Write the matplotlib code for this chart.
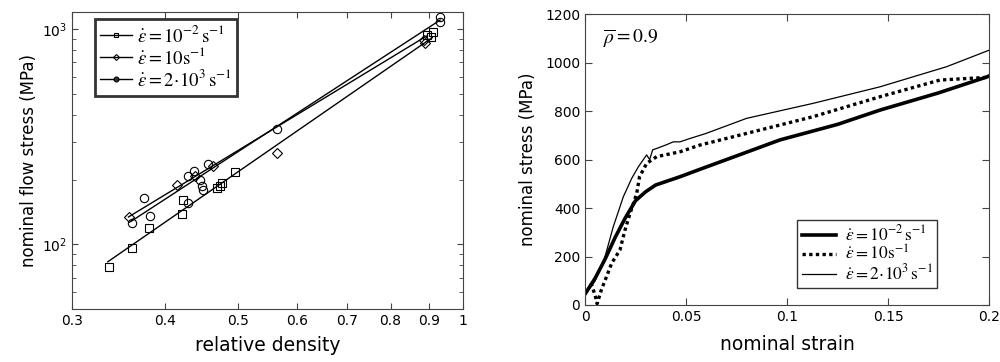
import matplotlib
matplotlib.use("Agg")
import matplotlib.pyplot as plt
from matplotlib.ticker import FixedLocator, NullLocator, LogLocator, NullFormatter

plt.rcParams['font.family'] = ['DejaVu Sans']
plt.rcParams['mathtext.fontset'] = 'stix'

# ---------------- Left panel data (log-log) ----------------
sq_x = [0.3365, 0.3604, 0.3806, 0.4205, 0.4226, 0.4683, 0.4732, 0.4756, 0.4955, 0.894, 0.905, 0.9125]
sq_y = [78.5, 96.1, 118.6, 137.7, 159.8, 183, 186.2, 193, 217.1, 938, 921, 971]
di_x = [0.3578, 0.4148, 0.438, 0.4634, 0.5633, 0.887, 0.889]
di_y = [133.8, 188.2, 207, 230.4, 265.8, 889, 859]
ci_x = [0.3604, 0.3745, 0.3820, 0.4292, 0.4292, 0.4367, 0.4449, 0.4472, 0.4494, 0.4564, 0.5645, 0.9313, 0.933]
ci_y = [126, 164.5, 135.2, 156, 207.2, 218.5, 200, 186.2, 179.7, 236.4, 343, 1081, 1133]

line_sq_x = [0.335, 0.91]
line_sq_y = [83, 913]
line_di_x = [0.357, 0.895]
line_di_y = [134, 930]
line_ci_x = [0.36, 0.932]
line_ci_y = [128, 1100]

left_xticks = [0.3, 0.4, 0.5, 0.6, 0.7, 0.8, 0.9, 1.0]
left_xticklabels = ['0.3', '0.4', '0.5', '0.6', '0.7', '0.8', '0.9', '1']

# ---------------- Right panel data ----------------
s1_x = [0.0, 0.005, 0.01, 0.015, 0.02, 0.025, 0.03, 0.035, 0.047, 0.057, 0.075, 0.0965, 0.125, 0.146, 0.175, 0.199, 0.2]
s1_y = [45, 110, 190, 280, 360, 430, 467, 495, 529, 560, 615, 681, 745, 804, 875, 941, 945]

s2_x = [0.003, 0.005, 0.006, 0.008, 0.0132, 0.0173, 0.0198, 0.0223, 0.0256, 0.027, 0.0305, 0.0355, 0.047, 0.057, 0.0767, 0.113, 0.146, 0.1757, 0.199, 0.2]
s2_y = [90, 40, 5, 60, 172, 227, 309, 378, 460, 529, 584, 612, 632, 660, 701, 777, 859, 928, 939, 940]

s3_x = [0.0, 0.005, 0.0099, 0.014, 0.019, 0.0231, 0.0264, 0.0305, 0.032, 0.0335, 0.0355, 0.040, 0.0437, 0.047, 0.052, 0.06, 0.08, 0.113, 0.146, 0.179, 0.2]
s3_y = [40, 100, 199, 323, 447, 522, 570, 619, 600, 640, 646, 660, 673, 673, 687, 708, 770, 832, 900, 983, 1051]

right_xticks = [0, 0.05, 0.1, 0.15, 0.2]
right_xticklabels = ['0', '0.05', '0.1', '0.15', '0.2']
right_yticks = [0, 200, 400, 600, 800, 1000, 1200]

labels = [r'$\dot{\varepsilon}=10^{-2}\,\mathrm{s}^{-1}$',
          r'$\dot{\varepsilon}=10\mathrm{s}^{-1}$',
          r'$\dot{\varepsilon}=2\!\cdot\!10^{3}\,\mathrm{s}^{-1}$']

fig = plt.figure(figsize=(10, 3.62), dpi=100)

spine_col = '#444444'
# ---------------- Left ----------------
ax1 = fig.add_axes([0.072, 0.146, 0.391, 0.821])
ax1.set_xscale('log')
ax1.set_yscale('log')
mk = dict(ls='none', mfc='none', mec='black', mew=0.8, ms=6)
ax1.plot(sq_x, sq_y, marker='s', **mk)
ax1.plot(di_x, di_y, marker='D', **dict(mk, ms=5))
ax1.plot(ci_x, ci_y, marker='o', **mk)
ax1.plot(line_sq_x, line_sq_y, color='black', lw=1.0)
ax1.plot(line_di_x, line_di_y, color='black', lw=1.0)
ax1.plot(line_ci_x, line_ci_y, color='black', lw=1.0)
h1 = ax1.plot([], [], color='black', lw=1.0, marker='s', ms=3.5, mfc='none', mec='black', mew=0.8)[0]
h2 = ax1.plot([], [], color='black', lw=1.0, marker='D', ms=3.0, mfc='none', mec='black', mew=0.8)[0]
h3 = ax1.plot([], [], color='black', lw=1.0, marker='o', ms=3.5, mfc='#333333', mec='black', mew=0.8)[0]
leg1 = ax1.legend([h1, h2, h3], labels, loc='upper left', bbox_to_anchor=(0.058, 0.975),
                  borderaxespad=0, fancybox=False, edgecolor='black', fontsize=13.5,
                  handlelength=1.7, handletextpad=0.25, labelspacing=0.05, borderpad=0.3)
leg1.get_frame().set_linewidth(2.0)
ax1.set_xlim(0.3, 1.0)
ax1.set_ylim(50, 1200)
ax1.xaxis.set_major_locator(FixedLocator(left_xticks))
ax1.set_xticklabels(left_xticklabels)
ax1.xaxis.set_minor_locator(NullLocator())
ax1.yaxis.set_major_locator(LogLocator(base=10))
ax1.yaxis.set_minor_locator(LogLocator(base=10, subs=range(2, 10)))
ax1.yaxis.set_minor_formatter(NullFormatter())
ax1.tick_params(which='both', direction='in', top=True, right=True, labelsize=10, color=spine_col)
ax1.tick_params(which='major', length=4)
ax1.tick_params(which='minor', length=3)
for s in ax1.spines.values():
    s.set_color(spine_col)
ax1.set_xlabel('relative density', fontsize=13.5, labelpad=6)
ax1.set_ylabel('nominal flow stress (MPa)', fontsize=12, labelpad=3)

# ---------------- Right ----------------
ax2 = fig.add_axes([0.585, 0.1575, 0.404, 0.8035])
ax2.plot(s1_x, s1_y, color='black', lw=2.6, label=labels[0])
ax2.plot(s2_x, s2_y, color='black', lw=2.4, ls=(0, (1.0, 1.0)), label=labels[1])
ax2.plot(s3_x, s3_y, color='black', lw=0.9, label=labels[2])
ax2.set_xlim(0, 0.2)
ax2.set_ylim(0, 1200)
ax2.set_xticks(right_xticks)
ax2.set_xticklabels(right_xticklabels)
ax2.set_yticks(right_yticks)
ax2.tick_params(which='both', direction='in', top=True, right=True, labelsize=10, length=5, color=spine_col)
for s in ax2.spines.values():
    s.set_color(spine_col)
ax2.set_xlabel('nominal strain', fontsize=13.5, labelpad=8)
ax2.set_ylabel('nominal stress (MPa)', fontsize=12, labelpad=6)
leg2 = ax2.legend(loc='lower right', bbox_to_anchor=(0.872, 0.058), borderaxespad=0,
                  fancybox=False, edgecolor='black', fontsize=12.5, handlelength=2.0,
                  handletextpad=0.5, labelspacing=0.0, borderpad=0.25)
leg2.get_frame().set_linewidth(1.0)
ax2.text(0.045, 0.955, r'$\overline{\rho}=0.9$', transform=ax2.transAxes, fontsize=14,
         va='top', ha='left')

fig.savefig('out.png', dpi=100)
